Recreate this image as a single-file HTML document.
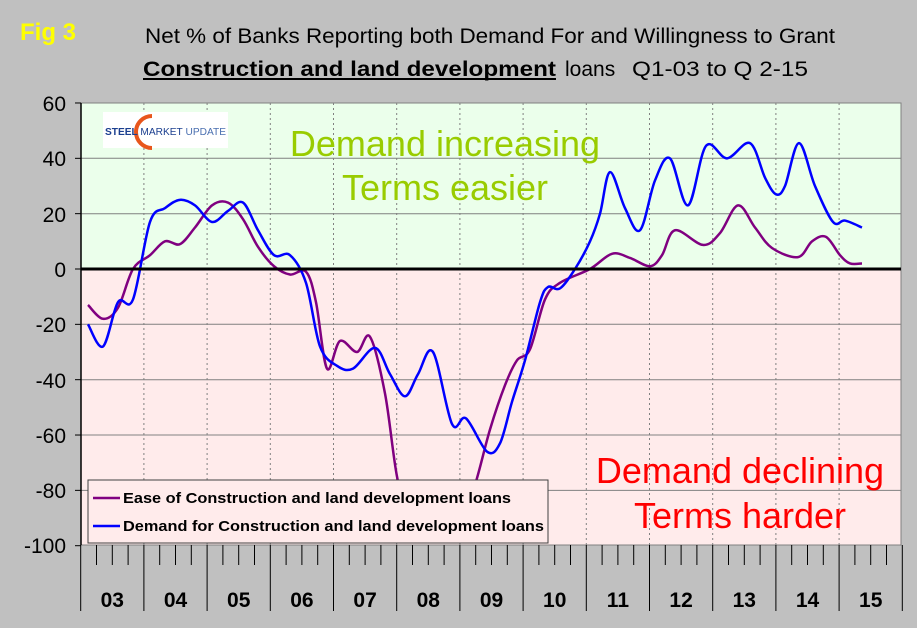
<!DOCTYPE html>
<html><head><meta charset="utf-8"><style>
body{margin:0;width:917px;height:623px;background:#c0c0c0;overflow:hidden;font-family:"Liberation Sans",Arial,sans-serif}
</style></head><body>
<svg width="917" height="623" xmlns="http://www.w3.org/2000/svg" font-family="Liberation Sans, Arial, sans-serif">
<defs><clipPath id="cp"><rect x="81" y="103" width="820" height="442"/></clipPath></defs>
<rect x="0" y="0" width="917" height="623" fill="#c0c0c0"/>
<text x="20" y="40" font-size="24" font-weight="bold" fill="#ffff00">Fig 3</text>
<text x="145" y="43" font-size="21" fill="#000" textLength="690" lengthAdjust="spacingAndGlyphs">Net % of Banks Reporting both Demand For and Willingness to Grant</text>
<text x="143" y="76" font-size="21" font-weight="bold" fill="#000" textLength="413" lengthAdjust="spacingAndGlyphs">Construction and land development</text>
<line x1="143" y1="79" x2="556" y2="79" stroke="#000" stroke-width="2"/>
<text x="565" y="76" font-size="21" fill="#000">loans</text>
<text x="632" y="76" font-size="21" fill="#000" textLength="176" lengthAdjust="spacingAndGlyphs">Q1-03 to Q 2-15</text>
<rect x="81" y="103" width="820" height="166" fill="#ebffeb"/>
<rect x="81" y="269" width="820" height="276" fill="#ffebeb"/>
<g stroke="#808080" stroke-width="1">
<line x1="81" y1="158.3" x2="901" y2="158.3"/><line x1="81" y1="213.7" x2="901" y2="213.7"/>
<line x1="81" y1="324.3" x2="901" y2="324.3"/><line x1="81" y1="379.7" x2="901" y2="379.7"/>
<line x1="81" y1="435" x2="901" y2="435"/><line x1="81" y1="490.4" x2="901" y2="490.4"/>
</g>
<g id="vg" stroke="#808080" stroke-width="1" stroke-dasharray="2,3"></g>
<rect x="81" y="103" width="820" height="442" fill="none" stroke="#808080"/>
<line x1="81" y1="103" x2="81" y2="545" stroke="#000" stroke-width="1.5"/>
<g id="yt" stroke="#000"></g>
<g font-size="21" text-anchor="end" fill="#000">
<text x="66" y="111">60</text><text x="66" y="166">40</text><text x="66" y="222">20</text><text x="66" y="277">0</text>
<text x="66" y="332">-20</text><text x="66" y="388">-40</text><text x="66" y="443">-60</text><text x="66" y="498">-80</text><text x="66" y="553">-100</text>
</g>
<g id="xt" stroke="#000"></g>
<g id="xl" font-size="21" font-weight="bold" text-anchor="middle" fill="#000"></g>
<rect x="103" y="112" width="125" height="36" fill="#fff"/>
<path d="M152 116 A15 15 0 1 0 152 148" fill="none" stroke="#e8561c" stroke-width="4"/>
<text x="105" y="135" font-size="10.5" font-weight="bold" fill="#1b3f8f" textLength="121" lengthAdjust="spacingAndGlyphs">STEEL <tspan font-weight="normal">MARKET</tspan> <tspan font-weight="normal" fill="#4a6fb0">UPDATE</tspan></text>
<text x="445" y="156" font-size="36" text-anchor="middle" fill="#99cc00">Demand increasing</text>
<text x="445" y="200" font-size="36" text-anchor="middle" fill="#99cc00">Terms easier</text>
<text x="740" y="483" font-size="36" text-anchor="middle" fill="#ff0000">Demand declining</text>
<text x="740" y="528" font-size="36" text-anchor="middle" fill="#ff0000">Terms harder</text>
<g clip-path="url(#cp)">
<path id="pe" fill="none" stroke="#800080" stroke-width="2.5"/>
<path id="pd" fill="none" stroke="#0000ff" stroke-width="2.5"/>
</g>
<line x1="81" y1="269" x2="901" y2="269" stroke="#000" stroke-width="3"/>
<rect x="88" y="480" width="460" height="63" fill="#ffebeb" stroke="#404040"/>
<line x1="93" y1="498" x2="120" y2="498" stroke="#800080" stroke-width="2.5"/>
<line x1="93" y1="526" x2="120" y2="526" stroke="#0000ff" stroke-width="2.5"/>
<text x="123" y="503" font-size="15" font-weight="bold" fill="#000" textLength="388" lengthAdjust="spacingAndGlyphs">Ease of Construction and land development loans</text>
<text x="123" y="531" font-size="15" font-weight="bold" fill="#000" textLength="421" lengthAdjust="spacingAndGlyphs">Demand for Construction and land development loans</text>
</svg>
<script>
function Y(v){return 269-v*2.767;}
var vg=document.getElementById('vg'),xt=document.getElementById('xt'),xl=document.getElementById('xl'),yt=document.getElementById('yt');
var s='';
for(var i=1;i<13;i++){var x=80.7+i*63.2;s+='<line x1="'+x+'" y1="103" x2="'+x+'" y2="545"/>';}
vg.innerHTML=s;s='';
for(var q=0;q<=52;q++){var x=80.7+q*15.8;s+='<line x1="'+x+'" y1="545" x2="'+x+'" y2="'+(q%4==0?611:565)+'"/>';}
xt.innerHTML=s;s='';
var yrs=['03','04','05','06','07','08','09','10','11','12','13','14','15'];
for(var i=0;i<13;i++){s+='<text x="'+(80.7+63.2*i+31.6)+'" y="607">'+yrs[i]+'</text>';}
xl.innerHTML=s;s='';
for(var v=-100;v<=60;v+=20){s+='<line x1="75" y1="'+Y(v)+'" x2="81" y2="'+Y(v)+'"/>';}
yt.innerHTML=s;
function path(pts){var d='M'+pts[0][0]+' '+pts[0][1];
for(var i=0;i<pts.length-1;i++){var p0=pts[Math.max(0,i-1)],p1=pts[i],p2=pts[i+1],p3=pts[Math.min(pts.length-1,i+2)];
d+=' C'+(p1[0]+(p2[0]-p0[0])/6)+' '+(p1[1]+(p2[1]-p0[1])/6)+' '+(p2[0]-(p3[0]-p1[0])/6)+' '+(p2[1]-(p3[1]-p1[1])/6)+' '+p2[0]+' '+p2[1];}
return d;}
function P(a){return a.map(function(p){return [p[0],Y(p[1])];});}
var dem=[[88,-20],[103,-28],[118,-12],[133,-11],[150,17],[165,22],[180,25],[195,23],[212,17],[228,21],[243,24],[258,14],[274,5],[290,5],[306,-5],[320,-28],[337,-35],[353,-36],[375,-28.5],[390,-38],[405,-46],[418,-38],[433,-30],[452,-56],[466,-54],[487,-66],[500,-63],[512,-48],[525,-33],[540,-12],[548,-6.5],[560,-7],[575,0],[590,10],[600,20],[610,35],[625,22],[640,14],[655,32],[670,40],[688,23],[706,44.5],[727,40],[750,45.5],[765,33],[776,27],[785,30],[799,45.5],[815,30],[833,17],[845,17.5],[862,15]];
var ease=[[88,-13],[103,-18],[118,-14],[133,0],[150,5],[165,10],[180,9],[195,15],[212,23],[228,24],[243,18],[258,8],[274,1],[290,-2],[306,-1],[316,-12],[327,-36],[340,-26],[357,-30],[370,-24.5],[385,-45],[397,-75],[410,-92],[435,-96],[460,-92],[475,-78],[490,-58],[505,-42],[517,-33],[530,-29],[545,-11],[560,-5],[590,0],[612,5.5],[630,4],[650,1],[662,5],[675,14],[703,8.7],[720,13],[738,23],[755,15],[772,7.6],[798,4.3],[812,10],[826,11.6],[840,5],[850,2],[862,2]];
document.getElementById('pd').setAttribute('d',path(P(dem)));
document.getElementById('pe').setAttribute('d',path(P(ease)));
</script>
</body></html>
